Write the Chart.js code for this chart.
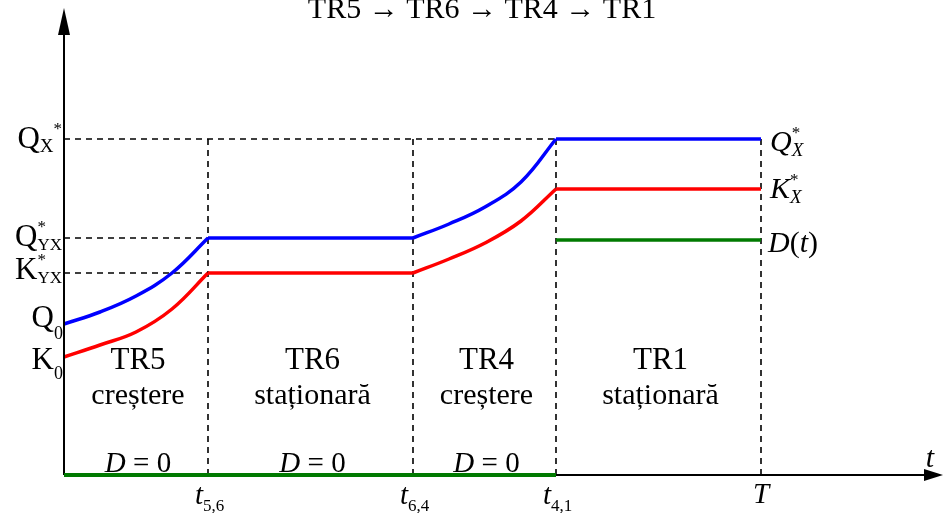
<!DOCTYPE html>
<html>
<head>
<meta charset="utf-8">
<script src="https://cdn.jsdelivr.net/npm/chart.js@4.4.0/dist/chart.umd.min.js"></script>
<style>
  html, body { margin: 0; padding: 0; background: #fff; }
  #wrap { width: 943px; height: 513px; }
</style>
</head>
<body>
<div id="wrap"><canvas id="chart"></canvas></div>
<script>
// time axis (0 .. tEnd), regime boundaries and their labels
const tEnd = 872;
const tMarks = [144, 349, 492, 697];
const tMarkLabels = [['t', '5,6'], ['t', '6,4'], ['t', '4,1'], ['T', '']];
const yEnd = 460;

// regimes
const regimeNames = ['TR5', 'TR6', 'TR4', 'TR1'];
const regimeKinds = ['creștere', 'staționară', 'creștere', 'staționară'];
const titleText = 'TR5 → TR6 → TR4 → TR1';

// levels on the vertical axis
const levelQx = 336, levelQyx = 237, levelKyx = 202, levelQ0 = 151, levelK0 = 118;
const levelKx = 286, levelD = 235;

// Q(t) pieces
const qRise1X = [0, 36, 72, 108, 144];
const qRise1Y = [151, 163, 179, 202, 237];
const qRise2X = [349, 385, 421, 457, 492];
const qRise2Y = [237, 251, 268, 293, 336];
// K(t) pieces
const kRise1X = [0, 36, 72, 108, 144];
const kRise1Y = [118, 130, 143, 166, 202];
const kRise2X = [349, 385, 421, 457, 492];
const kRise2Y = [202, 216, 232, 254, 286];

const pts = (xs, ys) => xs.map((x, i) => ({ x: x, y: ys[i] }));
const seg = (x0, x1, y) => [{ x: x0, y: y }, { x: x1, y: y }];

const BLUE = '#0000ff', RED = '#ff0000', GREEN = '#007a00';
const dash = { borderColor: '#000', borderWidth: 1.6, borderDash: [6, 5], order: 5 };

const datasets = [];
// guide lines
tMarks.forEach(t => datasets.push(Object.assign({ data: [{ x: t, y: 0 }, { x: t, y: levelQx }] }, dash)));
datasets.push(Object.assign({ data: seg(0, tMarks[2], levelQx) }, dash));
datasets.push(Object.assign({ data: seg(0, tMarks[0], levelQyx) }, dash));
datasets.push(Object.assign({ data: seg(0, tMarks[0], levelKyx) }, dash));

// curves
const curve = (data, color) => ({ data: data, borderColor: color, borderWidth: 3.5, tension: 0.4, order: 1 });
datasets.push(curve(pts(qRise1X, qRise1Y), BLUE));
datasets.push(curve(seg(tMarks[0], tMarks[1], levelQyx), BLUE));
datasets.push(curve(pts(qRise2X, qRise2Y), BLUE));
datasets.push(curve(seg(tMarks[2], tMarks[3], levelQx), BLUE));
datasets.push(curve(pts(kRise1X, kRise1Y), RED));
datasets.push(curve(seg(tMarks[0], tMarks[1], levelKyx), RED));
datasets.push(curve(pts(kRise2X, kRise2Y), RED));
datasets.push(curve(seg(tMarks[2], tMarks[3], levelKx), RED));
datasets.push(curve(seg(tMarks[2], tMarks[3], levelD), GREEN));

const SERIF = '"Liberation Serif", "DejaVu Serif", serif';

// draws a row of text pieces; each piece: [text, size, italic, dy, stack]
function drawPieces(ctx, pieces, x, y, align) {
  const widths = pieces.map(p => {
    ctx.font = (p[2] ? 'italic ' : '') + p[1] + 'px ' + SERIF;
    return p[4] ? 0 : ctx.measureText(p[0]).width;
  });
  let total = widths.reduce((a, b) => a + b, 0);
  let cx = align === 'right' ? x - total : align === 'center' ? x - total / 2 : x;
  ctx.textAlign = 'left';
  ctx.textBaseline = 'alphabetic';
  pieces.forEach((p, i) => {
    ctx.font = (p[2] ? 'italic ' : '') + p[1] + 'px ' + SERIF;
    ctx.fillText(p[0], cx, y + (p[3] || 0));
    cx += widths[i];
  });
}

const decor = {
  id: 'decor',
  afterDatasetsDraw(chart) {
    const ctx = chart.ctx;
    const xs = chart.scales.x, ys = chart.scales.y;
    const ca = chart.chartArea;
    const x0 = xs.getPixelForValue(0), y0 = ys.getPixelForValue(0);
    ctx.save();
    ctx.fillStyle = '#000';
    ctx.strokeStyle = '#000';
    ctx.lineWidth = 2;
    // vertical axis with arrow
    ctx.beginPath();
    ctx.moveTo(x0, y0); ctx.lineTo(x0, ca.top + 14); ctx.stroke();
    ctx.beginPath();
    ctx.moveTo(x0, ca.top - 7); ctx.lineTo(x0 - 6, ca.top + 20); ctx.lineTo(x0 + 6, ca.top + 20); ctx.closePath(); ctx.fill();
    // horizontal axis with arrow
    ctx.beginPath();
    ctx.moveTo(x0, y0); ctx.lineTo(ca.right - 6, y0); ctx.stroke();
    ctx.beginPath();
    ctx.moveTo(ca.right + 7, y0); ctx.lineTo(ca.right - 12, y0 - 6); ctx.lineTo(ca.right - 12, y0 + 6); ctx.closePath(); ctx.fill();
    // D = 0 on the axis
    ctx.strokeStyle = GREEN;
    ctx.lineWidth = 4;
    ctx.beginPath();
    ctx.moveTo(x0, y0); ctx.lineTo(xs.getPixelForValue(tMarks[2]), y0); ctx.stroke();

    ctx.fillStyle = '#000';
    // title
    drawPieces(ctx, [[titleText, 30, false]], 482, 18, 'center');

    // left level labels
    const lx = x0 - 2;
    drawPieces(ctx, [['Q', 31], ['X', 19, false, 4], ['*', 17, false, -14]], lx, ys.getPixelForValue(levelQx) + 9, 'right');
    drawPieces(ctx, [['Q', 31], ['*', 17, false, -14, true], ['YX', 17, false, 4]], lx, ys.getPixelForValue(levelQyx) + 8, 'right');
    drawPieces(ctx, [['K', 31], ['*', 17, false, -14, true], ['YX', 17, false, 4]], lx, ys.getPixelForValue(levelKyx) + 6, 'right');
    drawPieces(ctx, [['Q', 31], ['0', 18, false, 12]], lx + 1, ys.getPixelForValue(levelQ0) + 3, 'right');
    drawPieces(ctx, [['K', 31], ['0', 18, false, 10]], lx + 1, ys.getPixelForValue(levelK0) + 12, 'right');

    // right level labels
    const rx = xs.getPixelForValue(tMarks[3]) + 9;
    drawPieces(ctx, [['Q', 30, true], ['*', 17, false, -13, true], ['X', 19, true, 5]], rx, ys.getPixelForValue(levelQx) + 12, 'left');
    drawPieces(ctx, [['K', 30, true], ['*', 17, false, -13, true], ['X', 19, true, 5]], rx, ys.getPixelForValue(levelKx) + 9, 'left');
    drawPieces(ctx, [['D', 30, true], ['(', 30, false], ['t', 30, true], [')', 30, false]], rx - 2, ys.getPixelForValue(levelD) + 12, 'left');

    // regime labels
    const bounds = [0].concat(tMarks);
    regimeNames.forEach((name, i) => {
      const cx = (xs.getPixelForValue(bounds[i]) + xs.getPixelForValue(bounds[i + 1])) / 2;
      drawPieces(ctx, [[name, 31, false]], cx + 2, 369, 'center');
      drawPieces(ctx, [[regimeKinds[i], 30, false]], cx + 2, 404, 'center');
      if (i < 3) drawPieces(ctx, [['D', 29, true], [' = 0', 29, false]], cx + 2, y0 - 3, 'center');
    });

    // time marks
    tMarks.forEach((t, i) => {
      const px = xs.getPixelForValue(t);
      const lab = tMarkLabels[i];
      if (lab[1]) drawPieces(ctx, [[lab[0], 29, true], [lab[1], 17, false, 7]], px - 13, y0 + 29, 'left');
      else drawPieces(ctx, [[lab[0], 29, true]], px, y0 + 28, 'center');
    });
    drawPieces(ctx, [['t', 30, true]], ca.right - 6, y0 - 8, 'center');
    ctx.restore();
  }
};

new Chart(document.getElementById('chart'), {
  type: 'line',
  data: { datasets: datasets },
  options: {
    responsive: true,
    maintainAspectRatio: false,
    animation: false,
    layout: { padding: { left: 64, right: 7, top: 15, bottom: 38 } },
    elements: { point: { radius: 0 } },
    datasets: { line: { clip: false, fill: false } },
    plugins: { legend: { display: false }, tooltip: { enabled: false }, title: { display: false } },
    scales: {
      x: { type: 'linear', min: 0, max: tEnd, display: false },
      y: { type: 'linear', min: 0, max: yEnd, display: false }
    }
  },
  plugins: [decor]
});
</script>
</body>
</html>
